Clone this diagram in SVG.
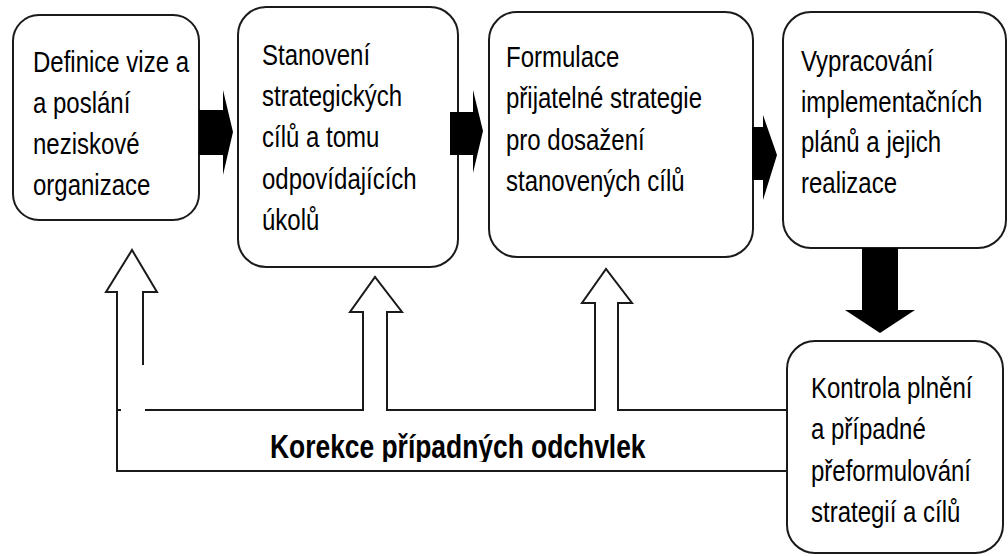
<svg xmlns="http://www.w3.org/2000/svg" width="1008" height="556" viewBox="0 0 1008 556">
<style>
.box{fill:#fff;stroke:#1a1a1a;stroke-width:2}
.t{font-family:"Liberation Sans",Arial,sans-serif;font-size:30px;fill:#000}
.tb{font-family:"Liberation Sans",Arial,sans-serif;font-size:33px;font-weight:bold;fill:#000}
.solid{fill:#000;stroke:none}
.hollow{fill:none;stroke:#1a1a1a;stroke-width:2;stroke-linejoin:miter}
</style>
<defs>
<clipPath id="clipK"><rect x="200" y="415" width="500" height="47"/></clipPath>
</defs>
<rect width="1008" height="556" fill="#fff"/>

<g id="node1">
<rect class="box" x="13" y="15" width="186" height="205" rx="26" ry="26"/>
<text class="t" transform="translate(33,72) scale(0.8,1)"><tspan x="0" y="0">Definice vize a</tspan><tspan x="0" dy="41">a poslání</tspan><tspan x="0" dy="41">neziskové</tspan><tspan x="0" dy="41">organizace</tspan></text>
</g>

<g id="node2">
<rect class="box" x="238" y="7" width="220" height="260" rx="28" ry="28"/>
<text class="t" transform="translate(262,65) scale(0.8,1)"><tspan x="0" y="0">Stanovení</tspan><tspan x="0" dy="41.2">strategických</tspan><tspan x="0" dy="41.2">cílů a tomu</tspan><tspan x="0" dy="41.2">odpovídajících</tspan><tspan x="0" dy="41.2">úkolů</tspan></text>
</g>

<g id="node3">
<rect class="box" x="489" y="12" width="264" height="245" rx="28" ry="28"/>
<text class="t" transform="translate(506,67) scale(0.8,1)"><tspan x="0" y="0">Formulace</tspan><tspan x="0" dy="41.5">přijatelné strategie</tspan><tspan x="0" dy="41.5">pro dosažení</tspan><tspan x="0" dy="41.5">stanovených cílů</tspan></text>
</g>

<g id="node4">
<rect class="box" x="783" y="12" width="223" height="236" rx="28" ry="28"/>
<text class="t" transform="translate(801,71) scale(0.8,1)"><tspan x="0" y="0">Vypracování</tspan><tspan x="0" dy="40.7">implementačních</tspan><tspan x="0" dy="40.7">plánů a jejich</tspan><tspan x="0" dy="40.7">realizace</tspan></text>
</g>

<g id="connectors">
<polygon class="solid" points="199,110 223,110 223,90 233,132 223,175 223,155 199,155"/>
<polygon class="solid" points="450,112 473,112 473,90 483,131 473,173 473,155 450,155"/>
<polygon class="solid" points="752,127 763,127 763,115 777,155 763,200 763,180 752,180"/>
<polygon class="solid" points="862,248 898,248 898,310 915,310 880,333 845,310 862,310"/>

<polyline class="hollow" points="143,365 143,292 157,292 132,250 106,292 117,292 117,471 788,471 788,465"/>
<line class="hollow" x1="117" y1="410" x2="121" y2="410"/>
<polyline class="hollow" points="363,410 363,312 350,312 375,277 402,312 387,312 387,410"/>
<polyline class="hollow" points="595,410 595,303 582,303 606,269 632,303 618,303 618,410"/>
<line class="hollow" x1="145" y1="410" x2="364" y2="410"/>
<line class="hollow" x1="386" y1="410" x2="596" y2="410"/>
<polyline class="hollow" points="617,410 788,410 788,417"/>
<g clip-path="url(#clipK)">
<text class="tb" transform="translate(270,458) scale(0.8,1)">Korekce případných odchvlek</text>
</g>
</g>

<g id="node5">
<rect class="box" x="787" y="341" width="216" height="212" rx="28" ry="28"/>
<text class="t" transform="translate(811,398) scale(0.8,1)"><tspan x="0" y="0">Kontrola plnění</tspan><tspan x="0" dy="41.5">a případné</tspan><tspan x="0" dy="41.5">přeformulování</tspan><tspan x="0" dy="41.5">strategií a cílů</tspan></text>
</g>
</svg>
